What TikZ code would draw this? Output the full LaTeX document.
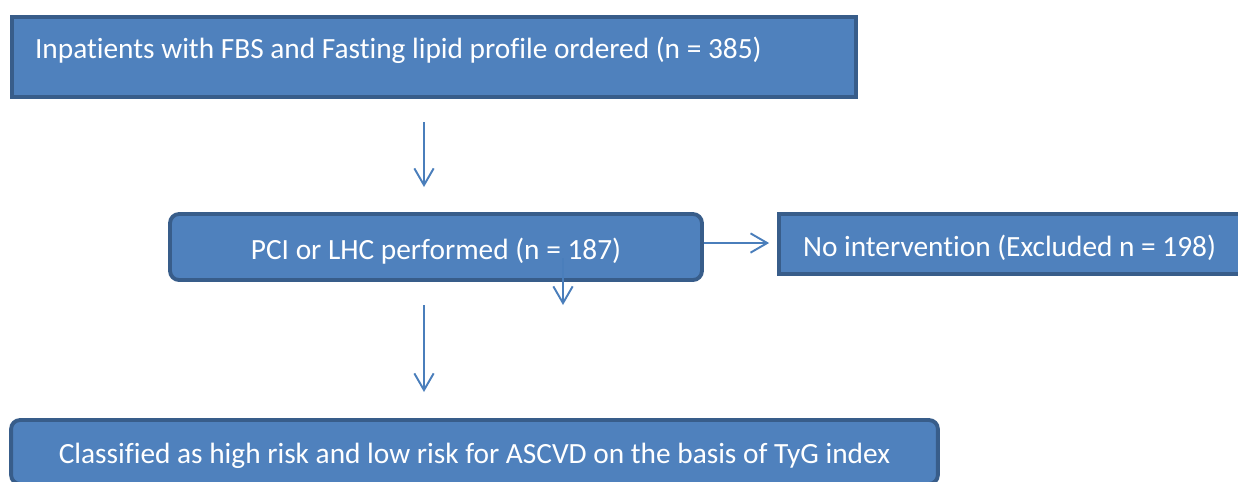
\documentclass[tikz,border=0pt]{standalone}
\usepackage{fontspec}
\setmainfont{Carlito}[Ligatures=NoCommon]
\usepackage{tikz}
\usetikzlibrary{shapes, arrows.meta}
\definecolor{boxfill}{RGB}{79,129,189}
\definecolor{boxline}{RGB}{56,93,138}
\definecolor{arrowline}{RGB}{74,126,187}
\tikzstyle{process} = [rectangle, draw=boxline, fill=boxfill, line width=2.2pt, inner ysep=0pt, text=white, font=\fontsize{16.7}{20}\selectfont]
\tikzstyle{roundproc} = [process, rounded corners=0.18cm]
\tikzstyle{arrow} = [draw=arrowline, line width=1.1pt, -{Straight Barb[length=9.5pt,width=11pt]}]

\begin{document}
\begin{tikzpicture}[x=0.02cm, y=-0.02cm]
\useasboundingbox (0,0) rectangle (1238,481);

\node (pro1) [process, minimum width=16.88cm, minimum height=1.6cm, inner xsep=0.46cm, text width=15.96cm, align=flush left, text height=0.42cm, text depth=0.38cm] at (434,57) {Inpatients with FBS and Fasting lipid profile ordered (n = 385)};
\node (pro2) [roundproc, minimum width=10.64cm, minimum height=1.32cm, text height=0.52cm, text depth=0.04cm] at (436,247) {PCI or LHC performed (n = 187)};
\node (pro3) [process, minimum width=9.42cm, minimum height=1.2cm, inner xsep=0.48cm, text width=8.46cm, align=flush left, text height=0.52cm, text depth=0.04cm] at (1014.5,244) {No intervention (Excluded n = 198)};
\node (pro4) [roundproc, minimum width=18.54cm, minimum height=1.28cm, text height=0.48cm, text depth=0.04cm] at (474.5,452) {Classified as high risk and low risk for ASCVD on the basis of TyG index};

\coordinate (gap1top) at (424,122);
\coordinate (gap1bot) at (424,187);
\coordinate (drop1) at (563,258);
\coordinate (drop2) at (563,305);
\coordinate (gap2top) at (424,305);
\coordinate (gap2bot) at (424,392);

\draw [arrow] (gap1top) -- (gap1bot);
\draw [arrow, shorten >=0.16cm] ([yshift=0.08cm]pro2.east) -- ([yshift=0.08cm]pro2.east -| pro3.west);
\draw [arrow] (drop1) -- (drop2);
\draw [arrow] (gap2top) -- (gap2bot);

\end{tikzpicture}
\end{document}
